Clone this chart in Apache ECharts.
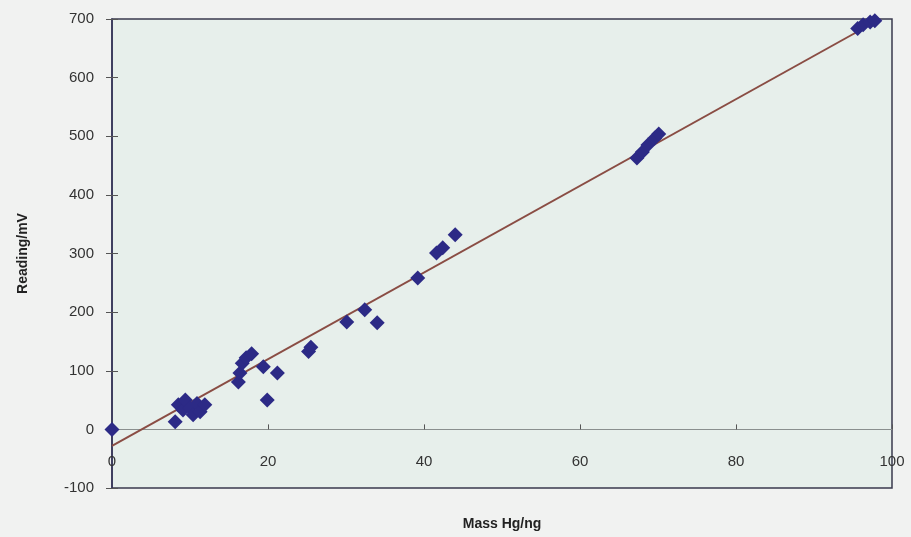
<!DOCTYPE html>
<html><head><meta charset="utf-8">
<script src="https://cdn.jsdelivr.net/npm/echarts@6/dist/echarts.min.js"></script>
<style>html,body{margin:0;padding:0;background:#f1f2f1;}#c{width:911px;height:537px;}</style>
</head><body><div id="c"></div>
<script>
// Measured points: mass Hg (ng) vs reading (mV)
var massHg = [0, 8.1, 8.5, 9.1, 9.4, 10.0, 10.4, 10.9, 11.3, 11.9,
  16.2, 16.4, 16.7, 17.2, 17.9, 19.4, 19.9, 21.2, 25.2, 25.5,
  30.1, 32.4, 34.0, 39.2, 41.6, 42.4, 44.0,
  67.3, 68.0, 68.7, 69.6, 70.1,
  95.6, 96.3, 97.2, 97.8];
var readingMv = [0, 13, 42, 33, 50, 37, 25, 44, 30, 42,
  81, 96, 113, 122, 129, 107, 50, 96, 133, 140,
  183, 204, 182, 258, 301, 310, 332,
  463, 473, 485, 497, 504,
  684, 690, 695, 697];
// Trend line end points
var trendX = [0, 98.5];
var trendY = [-28, 700];
var xTicks = [0, 20, 40, 60, 80, 100];
var yTicks = [-100, 0, 100, 200, 300, 400, 500, 600, 700];

var pts = massHg.map(function(x, i){ return [x, readingMv[i]]; });
var trend = trendX.map(function(x, i){ return [x, trendY[i]]; });
var font = 'Liberation Sans, Arial, sans-serif';
var chart = echarts.init(document.getElementById('c'), null, {renderer:'canvas'});
chart.setOption({
  animation: false,
  backgroundColor: '#f1f2f1',
  grid: {left: 112, right: 19, top: 19, bottom: 49, show: true, containLabel: false,
    outerBoundsMode: 'none',
    backgroundColor: '#e7efeb', borderColor: '#3a3a4e', borderWidth: 1.5},
  xAxis: [{
    type: 'value', min: 0, max: 100, interval: 20,
    axisLine: {show: true, onZero: true, lineStyle: {color: '#8a8f8e', width: 1}},
    axisTick: {show: true, inside: true, length: 5, lineStyle: {color: '#555'}},
    axisLabel: {show: false},
    splitLine: {show: false}
  }, {
    type: 'value', min: 0, max: 100, interval: 20, position: 'bottom',
    axisLine: {show: false, onZero: false},
    axisTick: {show: false},
    axisLabel: {show: true, inside: true, margin: 19, color: '#333', fontSize: 15, fontFamily: font},
    splitLine: {show: false},
    name: 'Mass Hg/ng', nameLocation: 'middle', nameGap: 29,
    nameTextStyle: {fontWeight: 'bold', fontSize: 14, color: '#222', fontFamily: font}
  }],
  yAxis: [{
    type: 'value', min: -100, max: 700, interval: 100,
    axisLine: {show: true, lineStyle: {color: '#33335a', width: 1.5}},
    axisTick: {show: true, inside: false, length: 6, lineStyle: {color: '#555'}},
    axisLabel: {margin: 18, color: '#333', fontSize: 15, fontFamily: font},
    splitLine: {show: false},
    name: 'Reading/mV', nameLocation: 'middle', nameGap: 82,
    nameTextStyle: {fontWeight: 'bold', fontSize: 14, color: '#222', fontFamily: font}
  }, {
    type: 'value', min: -100, max: 700, interval: 100, position: 'left',
    axisLine: {show: false}, axisTick: {show: true, inside: true, length: 6, lineStyle: {color: '#555'}},
    axisLabel: {show: false}, splitLine: {show: false}
  }],
  series: [{
    type: 'line', data: trend, symbol: 'none', z: 2,
    lineStyle: {color: '#8a4d44', width: 2}
  }, {
    type: 'scatter', data: pts, symbol: 'diamond', symbolSize: 15, z: 3,
    itemStyle: {color: '#2c2a86', opacity: 1}
  }]
});
</script></body></html>
